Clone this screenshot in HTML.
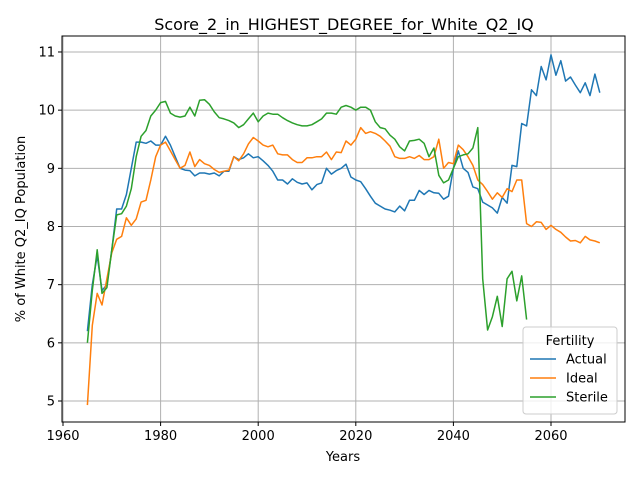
<!DOCTYPE html>
<html><head><meta charset="utf-8"><style>
body{margin:0;background:#fff;font-family:"Liberation Sans","DejaVu Sans",sans-serif}
svg text{font-family:"DejaVu Sans","Liberation Sans",sans-serif}
</style></head><body>
<svg id="chart" width="640" height="480" xmlns="http://www.w3.org/2000/svg">
<rect width="640" height="480" fill="#fff"/>
<g id="grid"></g>
<g id="series"></g>
<rect x="62" y="36" width="563" height="386" fill="none" stroke="#000" stroke-width="1"/>
<g id="axes"></g>
<text x="344" y="30" text-anchor="middle" font-size="16">Score_2_in_HIGHEST_DEGREE_for_White_Q2_IQ</text>
<text x="343" y="461" text-anchor="middle" font-size="13">Years</text>
<text transform="translate(25,229) rotate(-90)" text-anchor="middle" font-size="13">% of White Q2_IQ Population</text>
<g>
<rect x="523" y="327" width="94" height="87" rx="3" fill="#fff" fill-opacity="0.8" stroke="#ccc"/>
<text x="570" y="345" text-anchor="middle" font-size="13">Fertility</text>
<g id="legend-items"></g>
</g>
</svg>
<script>
const years=[];for(let y=1965;y<=2070;y++)years.push(y);
const actual=[6.2,7.0,7.5,6.9,7.0,7.6,8.3,8.3,8.55,9.0,9.45,9.45,9.43,9.47,9.4,9.4,9.55,9.4,9.2,9.0,8.97,8.96,8.87,8.92,8.92,8.9,8.92,8.87,8.95,8.95,9.2,9.15,9.18,9.25,9.18,9.2,9.13,9.05,8.95,8.8,8.8,8.73,8.82,8.76,8.73,8.75,8.63,8.72,8.75,9.0,8.9,8.96,9.0,9.07,8.85,8.8,8.77,8.65,8.52,8.4,8.35,8.3,8.28,8.25,8.35,8.27,8.45,8.45,8.62,8.55,8.62,8.58,8.57,8.47,8.52,9.0,9.3,9.0,8.93,8.68,8.65,8.42,8.37,8.32,8.23,8.5,8.4,9.05,9.03,9.77,9.73,10.35,10.25,10.75,10.52,10.95,10.6,10.85,10.5,10.57,10.43,10.3,10.47,10.25,10.62,10.3];
const ideal=[4.93,6.3,6.85,6.65,7.1,7.55,7.78,7.83,8.15,8.02,8.13,8.42,8.45,8.8,9.2,9.4,9.45,9.3,9.15,9.0,9.05,9.28,9.03,9.15,9.08,9.05,8.98,8.93,8.95,8.97,9.2,9.13,9.25,9.42,9.53,9.47,9.4,9.37,9.4,9.25,9.23,9.23,9.15,9.1,9.1,9.18,9.18,9.2,9.2,9.28,9.15,9.28,9.27,9.47,9.4,9.5,9.7,9.6,9.63,9.6,9.55,9.47,9.38,9.2,9.17,9.17,9.2,9.17,9.22,9.15,9.15,9.2,9.5,9.0,9.1,9.08,9.4,9.32,9.2,9.05,8.8,8.72,8.6,8.47,8.58,8.5,8.65,8.6,8.8,8.8,8.05,8.0,8.08,8.07,7.95,8.02,7.95,7.9,7.82,7.75,7.76,7.72,7.83,7.77,7.75,7.72];
const sterile=[6.0,6.9,7.6,6.85,6.95,7.6,8.2,8.22,8.35,8.65,9.2,9.55,9.65,9.9,10.0,10.13,10.15,9.95,9.9,9.88,9.9,10.05,9.9,10.17,10.18,10.1,9.97,9.87,9.85,9.82,9.78,9.7,9.75,9.85,9.95,9.8,9.9,9.95,9.93,9.93,9.87,9.82,9.78,9.75,9.73,9.73,9.75,9.8,9.85,9.95,9.95,9.93,10.05,10.08,10.05,10.0,10.05,10.05,10.0,9.8,9.7,9.68,9.57,9.5,9.37,9.3,9.47,9.48,9.5,9.43,9.2,9.35,8.88,8.75,8.8,9.0,9.2,9.23,9.25,9.35,9.7,7.1,6.22,6.45,6.8,6.28,7.1,7.23,6.72,7.15,6.4];
const xTicks=[1960,1980,2000,2020,2040,2060];
const yTicks=[5,6,7,8,9,10,11];
const ns="http://www.w3.org/2000/svg";
const X=v=>63+(v-1960)*4.88;
const Y=v=>401-(v-5)*58.17;
function mk(t,a,p){const e=document.createElementNS(ns,t);for(const k in a)e.setAttribute(k,a[k]);p.appendChild(e);return e;}
const grid=document.getElementById('grid'),axes=document.getElementById('axes'),ser=document.getElementById('series');
xTicks.forEach(t=>{const x=X(t);
const g=mk('line',{x1:x,x2:x,y1:36,y2:422,stroke:'#b0b0b0','stroke-width':1},grid);

mk('line',{x1:x,x2:x,y1:422,y2:426,stroke:'#000'},axes);
const tx=mk('text',{x:x,y:440,'text-anchor':'middle','font-size':13},axes);tx.textContent=t;
});
yTicks.forEach(t=>{const y=Y(t);
const g=mk('line',{x1:62,x2:625,y1:y,y2:y,stroke:'#b0b0b0','stroke-width':1},grid);

mk('line',{x1:58,x2:62,y1:y,y2:y,stroke:'#000'},axes);
const tx=mk('text',{x:55,y:y+4.5,'text-anchor':'end','font-size':13},axes);tx.textContent=t;
});
const list=[['Actual',actual,'#1f77b4'],['Ideal',ideal,'#ff7f0e'],['Sterile',sterile,'#2ca02c']];
const li=document.getElementById('legend-items');
list.forEach((s,i)=>{const pts=s[1].map((v,j)=>X(years[j]).toFixed(1)+','+Y(v).toFixed(1)).join(' ');
const p=mk('polyline',{points:pts,fill:'none',stroke:s[2],'stroke-width':1.5,'stroke-linejoin':'round'},ser);

const ly=359+i*19;
mk('line',{x1:530,x2:556,y1:ly,y2:ly,stroke:s[2],'stroke-width':1.5},li);
const t=mk('text',{x:566,y:ly+4.5,'font-size':13},li);t.textContent=s[0];
});
</script>
</body></html>
